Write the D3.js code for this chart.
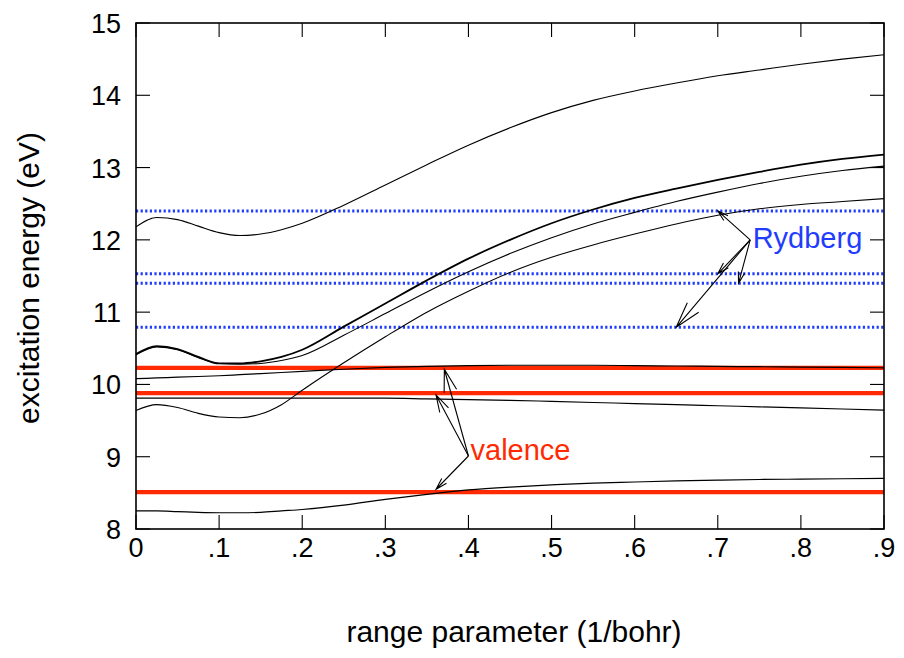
<!DOCTYPE html>
<html><head><meta charset="utf-8">
<script src="https://cdn.jsdelivr.net/npm/d3@7"></script>
<style>body{margin:0;background:#fff}text{font-family:"Liberation Sans",Arial,Helvetica,sans-serif}</style>
</head><body><svg id="c" width="904" height="658"></svg>
<script>
const xGrid = [0,0.025,0.05,0.075,0.1,0.125,0.15,0.175,0.2,0.25,0.3,0.35,0.4,0.45,0.5,0.55,0.6,0.65,0.7,0.75,0.8,0.85,0.9];
const curveA = [12.18,12.31,12.28,12.19,12.10,12.06,12.08,12.14,12.23,12.48,12.76,13.04,13.31,13.55,13.76,13.93,14.06,14.17,14.27,14.35,14.43,14.50,14.56];
const curveB = [10.42,10.53,10.49,10.38,10.29,10.29,10.32,10.38,10.48,10.80,11.12,11.44,11.74,12.00,12.23,12.42,12.58,12.71,12.83,12.94,13.04,13.12,13.18];
const curveC = [10.41,10.52,10.48,10.37,10.29,10.28,10.29,10.33,10.40,10.68,10.98,11.28,11.56,11.81,12.03,12.22,12.38,12.53,12.66,12.78,12.88,12.96,13.02];
const curveD = [9.64,9.72,9.68,9.60,9.55,9.54,9.59,9.72,9.92,10.30,10.66,11.00,11.29,11.55,11.76,11.93,12.08,12.22,12.34,12.43,12.49,12.53,12.57];
const curveE = [10.08,10.09,10.10,10.11,10.12,10.135,10.15,10.165,10.18,10.21,10.235,10.25,10.26,10.265,10.265,10.265,10.26,10.255,10.25,10.245,10.24,10.235,10.23];
const curveF = [9.81,9.81,9.81,9.81,9.81,9.81,9.81,9.81,9.81,9.81,9.81,9.80,9.79,9.78,9.765,9.75,9.735,9.72,9.705,9.69,9.675,9.66,9.645];
const curveG = [8.25,8.25,8.24,8.23,8.225,8.225,8.23,8.25,8.27,8.33,8.41,8.48,8.54,8.58,8.61,8.635,8.65,8.665,8.675,8.685,8.69,8.695,8.70];
const rydbergLevels = [12.40,11.53,11.40,10.79];
const valenceLevels = [10.23,9.88,8.51];
const xTicks = [0,0.1,0.2,0.3,0.4,0.5,0.6,0.7,0.8,0.9];
const xTickLabels = ["0",".1",".2",".3",".4",".5",".6",".7",".8",".9"];
const yTicks = [8,9,10,11,12,13,14,15];
const rydbergOrigin = [0.739,12.0];
const rydbergTips = [[0.70,12.40],[0.70,11.53],[0.725,11.40],[0.650,10.79]];
const valenceOrigin = [0.40,9.01];
const valenceTips = [[0.371,10.21],[0.361,9.855],[0.361,8.55]];

const svg = d3.select("#c");
const L=136,R=884,T=23,B=529;
const x = d3.scaleLinear().domain([0,0.9]).range([L,R]);
const y = d3.scaleLinear().domain([8,15]).range([B,T]);

// level lines
svg.selectAll(".ryd").data(rydbergLevels).enter().append("line")
  .attr("x1",x(0)).attr("x2",x(0.9)).attr("y1",d=>y(d)).attr("y2",d=>y(d))
  .attr("stroke","#1f3cff").attr("stroke-width",3).attr("stroke-dasharray","2.2,2.4");
svg.selectAll(".val").data(valenceLevels).enter().append("line")
  .attr("x1",x(0)).attr("x2",x(0.9)).attr("y1",d=>y(d)).attr("y2",d=>y(d))
  .attr("stroke","#ff2a00").attr("stroke-width",4.2);

// curves
const line = d3.line().x(d=>x(d[0])).y(d=>y(d[1])).curve(d3.curveMonotoneX);
const curves = [[curveA,1.1],[curveB,1.8],[curveC,1.1],[curveD,1.1],[curveE,1.2],[curveF,1.1],[curveG,1.2]];
curves.forEach(([vals,w])=>{
  svg.append("path").attr("d",line(xGrid.map((v,i)=>[v,vals[i]])))
    .attr("fill","none").attr("stroke","#000").attr("stroke-width",w);
});

// frame & ticks
const g = svg.append("g").attr("stroke","#000");
const tl=14;
xTicks.forEach(t=>{
  g.append("line").attr("x1",x(t)).attr("x2",x(t)).attr("y1",B).attr("y2",B-tl).attr("stroke-width",1.1);
  g.append("line").attr("x1",x(t)).attr("x2",x(t)).attr("y1",T).attr("y2",T+tl).attr("stroke-width",1.1);
});
yTicks.forEach(t=>{
  g.append("line").attr("x1",L).attr("x2",L+tl).attr("y1",y(t)).attr("y2",y(t)).attr("stroke-width",1.1);
  g.append("line").attr("x1",R).attr("x2",R-tl).attr("y1",y(t)).attr("y2",y(t)).attr("stroke-width",1.1);
});
svg.append("rect").attr("x",L).attr("y",T).attr("width",R-L).attr("height",B-T)
  .attr("fill","none").attr("stroke","#000").attr("stroke-width",1.6);

// tick labels
svg.selectAll(".xl").data(xTicks).enter().append("text")
  .attr("x",d=>x(d)).attr("y",B+28).attr("text-anchor","middle").attr("font-size",27)
  .text((d,i)=>xTickLabels[i]);
svg.selectAll(".yl").data(yTicks).enter().append("text")
  .attr("x",L-15).attr("y",d=>y(d)+10).attr("text-anchor","end").attr("font-size",27)
  .text(d=>d);

// axis titles
svg.append("text").attr("x",514).attr("y",642).attr("text-anchor","middle").attr("font-size",30)
  .text("range parameter (1/bohr)");
svg.append("text").attr("transform","translate(39,"+278+") rotate(-90)").attr("text-anchor","middle").attr("font-size",30)
  .text("excitation energy (eV)");

// arrows
function arrow(o,t){
  const x0=x(o[0]),y0=y(o[1]),x1=x(t[0]),y1=y(t[1]);
  const dx=x0-x1,dy=y0-y1,len=Math.hypot(dx,dy);
  const hl=Math.min(27,len*0.26), ang=16*Math.PI/180, a=Math.atan2(dy,dx);
  const p1=[x1+hl*Math.cos(a+ang),y1+hl*Math.sin(a+ang)];
  const p2=[x1+hl*Math.cos(a-ang),y1+hl*Math.sin(a-ang)];
  svg.append("path").attr("d",`M${x0},${y0}L${x1},${y1}M${p1[0]},${p1[1]}L${x1},${y1}L${p2[0]},${p2[1]}`)
    .attr("fill","none").attr("stroke","#000").attr("stroke-width",1.1);
}
rydbergTips.forEach(t=>arrow(rydbergOrigin,t));
valenceTips.forEach(t=>arrow(valenceOrigin,t));

svg.append("text").attr("x",x(0.742)).attr("y",y(11.89)).attr("font-size",29).attr("fill","#1f3cff").text("Rydberg");
svg.append("text").attr("x",x(0.4025)).attr("y",y(8.96)).attr("font-size",29).attr("fill","#ff2a00").text("valence");
</script></body></html>
